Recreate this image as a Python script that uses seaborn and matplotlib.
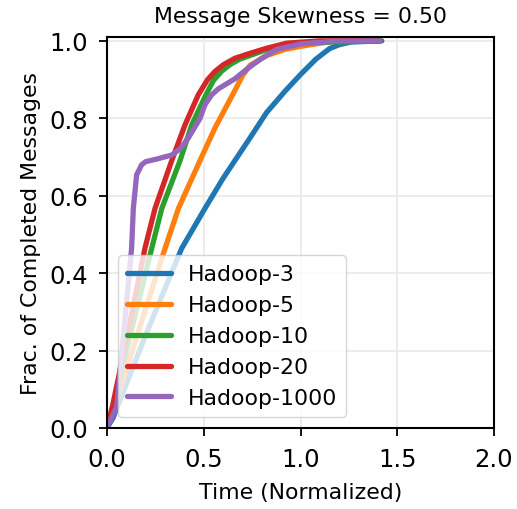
import matplotlib
matplotlib.use("Agg")
import matplotlib.pyplot as plt
import seaborn as sns
import pandas as pd

labels = ["Hadoop-3", "Hadoop-5", "Hadoop-10", "Hadoop-20", "Hadoop-1000"]

h3_x = [0, 0.03, 0.2, 0.386, 0.506, 0.60, 0.66, 0.74, 0.825, 0.92, 1.0, 1.08, 1.15, 1.2, 1.26, 1.42]
h3_y = [0, 0.025, 0.24, 0.464, 0.567, 0.645, 0.69, 0.75, 0.815, 0.87, 0.913, 0.953, 0.980, 0.99, 0.997, 1.0]

h5_x = [0, 0.03, 0.15, 0.3, 0.369, 0.489, 0.558, 0.661, 0.70, 0.74, 0.825, 0.92, 1.0, 1.17, 1.41]
h5_y = [0, 0.04, 0.23, 0.464, 0.567, 0.70, 0.775, 0.872, 0.91, 0.937, 0.962, 0.978, 0.986, 0.999, 1.0]

h10_x = [0, 0.03, 0.12, 0.231, 0.283, 0.377, 0.438, 0.506, 0.549, 0.593, 0.64, 0.687, 0.85, 1.0, 1.41]
h10_y = [0, 0.05, 0.24, 0.464, 0.567, 0.69, 0.783, 0.855, 0.897, 0.922, 0.94, 0.953, 0.982, 0.995, 1.0]

h20_x = [0, 0.03, 0.119, 0.196, 0.248, 0.334, 0.403, 0.472, 0.52, 0.558, 0.60, 0.661, 0.74, 0.825, 0.928, 1.1, 1.41]
h20_y = [0, 0.06, 0.274, 0.464, 0.567, 0.69, 0.783, 0.861, 0.9, 0.921, 0.938, 0.955, 0.968, 0.981, 0.994, 1.0, 1.0]

h1000_x = [0, 0.05, 0.1, 0.127, 0.136, 0.153, 0.179, 0.2, 0.26, 0.334, 0.38, 0.42, 0.481, 0.506,
           0.54, 0.575, 0.661, 0.73, 0.80, 0.877, 1.0, 1.17, 1.41]
h1000_y = [0, 0.055, 0.32, 0.464, 0.567, 0.654, 0.68, 0.688, 0.695, 0.705, 0.722, 0.749, 0.8, 0.835,
           0.86, 0.876, 0.902, 0.93, 0.955, 0.978, 0.992, 0.999, 1.0]

series = [(h3_x, h3_y), (h5_x, h5_y), (h10_x, h10_y), (h20_x, h20_y), (h1000_x, h1000_y)]

rows = []
for lab, (xs, ys) in zip(labels, series):
    for i, (x, y) in enumerate(zip(xs, ys)):
        rows.append({"Time": x, "Frac": y, "System": lab, "idx": i})
df = pd.DataFrame(rows)

sns.set_style("whitegrid", {"axes.edgecolor": "black", "grid.color": "#ebebeb",
                            "xtick.bottom": True, "ytick.left": True})
plt.rcParams["font.family"] = ["DejaVu Sans"]
plt.rcParams["text.color"] = "black"
plt.rcParams["axes.labelcolor"] = "black"
plt.rcParams["xtick.color"] = "black"
plt.rcParams["ytick.color"] = "black"
plt.rcParams["lines.solid_joinstyle"] = "round"

fig = plt.figure(figsize=(5.17, 5.10), dpi=100)
ax = fig.add_axes([0.207, 0.159, 0.9555 - 0.207, 0.9255 - 0.159])

sns.lineplot(data=df, x="Time", y="Frac", hue="System", hue_order=labels,
             palette="tab10", estimator=None, sort=False, units="System",
             linewidth=3.8, ax=ax)

ax.set_xlim(0, 2.0)
ax.set_ylim(0, 1.01)
ax.set_xticks([0, 0.5, 1.0, 1.5, 2.0])
ax.set_yticks([0, 0.2, 0.4, 0.6, 0.8, 1.0])
ax.set_xticklabels(["0.0", "0.5", "1.0", "1.5", "2.0"])
ax.set_yticklabels(["0.0", "0.2", "0.4", "0.6", "0.8", "1.0"])
ax.tick_params(axis="both", labelsize=17.5, length=6, width=1.3, colors="black", pad=7.5)
for s in ax.spines.values():
    s.set_color("black")
    s.set_linewidth(1.5)
ax.grid(True, color="#ebebeb", linewidth=1.3)

ax.set_xlabel("Time (Normalized)", fontsize=15.8, color="black", labelpad=8.5)
ax.set_ylabel("Frac. of Completed Messages", fontsize=15.8, color="black", labelpad=6)
ax.set_title("Message Skewness = 0.50", fontsize=15.8, color="black", pad=10.5)

leg = ax.legend(loc="lower left", fontsize=15.8, title=None)
for line in leg.get_lines():
    line.set_linewidth(3.8)
for t in leg.get_texts():
    t.set_color("black")

fig.savefig("out.png", dpi=100)
